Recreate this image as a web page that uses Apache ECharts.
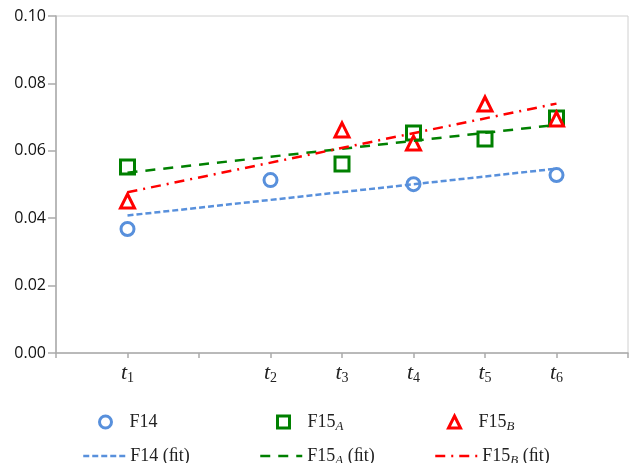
<!DOCTYPE html>
<html>
<head>
<meta charset="utf-8">
<script src="https://cdn.jsdelivr.net/npm/echarts@6/dist/echarts.min.js"></script>
<style>html,body{margin:0;padding:0;background:#fff}#c{width:631px;height:463px}</style>
</head>
<body>
<div id="c"></div>
<script>
// x positions: t1=1, t2=3, t3=4, t4=5, t5=6, t6=7
var xTickLabels = ['', '1', '', '2', '3', '4', '5', '6', ''];
var f14 = [[1, 0.0368], [3, 0.0513], [5, 0.0501], [7, 0.0528]];
var f15A = [[1, 0.0552], [4, 0.0561], [5, 0.0653], [6, 0.0635], [7, 0.0697]];
var f15B = [[1, 0.0451], [4, 0.0662], [5, 0.0623], [6, 0.0739], [7, 0.0694]];
var f14Fit = [[1, 0.0408], [7, 0.0547]];
var f15AFit = [[1, 0.0535], [7, 0.0677]];
var f15BFit = [[1, 0.0477], [7, 0.0740]];

var BLUE = '#5890dc', GREEN = '#008000', RED = '#ff0000';
var serif = 'Liberation Serif';
var legRich = {
  g: {width: 13},
  n: {fontFamily: serif, fontSize: 18, color: '#222'},
  s: {fontFamily: serif, fontSize: 13, fontStyle: 'italic', color: '#222', padding: [9, 0, 0, 0]}
};
var legText = {
  'F14': '{n|F14}',
  'F15A': '{n|F15}{s|A}',
  'F15B': '{n|F15}{s|B}',
  'F14 (fit)': '{n|F14 (ﬁt)}',
  'F15A (fit)': '{n|F15}{s|A}{n| (ﬁt)}',
  'F15B (fit)': '{n|F15}{s|B}{n| (ﬁt)}'
};
function markerLegend(name, icon, color, cx, top) {
  return {
    data: [{name: name, icon: icon}], left: cx - 6, top: top, itemWidth: 12, itemHeight: 12,
    itemGap: 0, padding: 0, selectedMode: false,
    itemStyle: {color: '#fff', borderColor: color, borderWidth: 3},
    formatter: function (n) { return '{g| }' + legText[n]; },
    textStyle: {rich: legRich}
  };
}
function lineLegend(name, left, top) {
  return {
    data: [name], left: left, top: top, itemWidth: 42, itemHeight: 14,
    itemGap: 0, padding: 0, selectedMode: false,
    itemStyle: {opacity: 0},
    lineStyle: {width: 2.5},
    formatter: function (n) { return legText[n]; },
    textStyle: {rich: legRich}
  };
}
var chart = echarts.init(document.getElementById('c'), null, {renderer: 'canvas'});
chart.setOption({
  animation: false,
  backgroundColor: '#fff',
  grid: {left: 56, right: 3, top: 16, bottom: 110, show: true, borderColor: '#d0d0d0', borderWidth: 1},
  legend: [
    markerLegend('F14', 'circle', BLUE, 104, 413),
    markerLegend('F15A', 'rect', GREEN, 282, 413),
    markerLegend('F15B', 'triangle', RED, 453, 413),
    lineLegend('F14 (fit)', 82, 447),
    lineLegend('F15A (fit)', 259, 447),
    lineLegend('F15B (fit)', 434, 447)
  ],
  xAxis: {
    type: 'value', min: 0, max: 8, interval: 1,
    axisLine: {lineStyle: {color: '#aaa', width: 1.5}},
    axisTick: {show: true, length: 5, lineStyle: {color: '#aaa', width: 1.5}},
    splitLine: {show: false},
    axisLabel: {
      margin: 8,
      formatter: function (v) {
        var s = xTickLabels[Math.round(v)];
        return s ? '{t|t}{s|' + s + '}' : '';
      },
      rich: {
        t: {fontFamily: serif, fontSize: 22, fontStyle: 'italic', color: '#222'},
        s: {fontFamily: serif, fontSize: 14, color: '#222', padding: [10, 0, 0, 0]}
      }
    }
  },
  yAxis: {
    type: 'value', min: 0, max: 0.10, interval: 0.02,
    axisLine: {show: true, lineStyle: {color: '#aaa', width: 1.5}},
    axisTick: {show: true, length: 8, lineStyle: {color: '#aaa', width: 1.5}},
    splitLine: {show: false},
    axisLabel: {
      margin: 10, color: '#111', fontFamily: 'Open Sans', fontSize: 16,
      formatter: function (v) { return v.toFixed(2); }
    }
  },
  series: [
    {name: 'F14', type: 'scatter', data: f14, symbol: 'circle', symbolSize: 13,
     itemStyle: {color: '#fff', borderColor: BLUE, borderWidth: 3, opacity: 1}, z: 3},
    {name: 'F15A', type: 'scatter', data: f15A, symbol: 'rect', symbolSize: 14,
     itemStyle: {color: '#fff', borderColor: GREEN, borderWidth: 3, opacity: 1}, z: 3},
    {name: 'F15B', type: 'scatter', data: f15B, symbol: 'triangle', symbolSize: 14,
     itemStyle: {color: '#fff', borderColor: RED, borderWidth: 3, opacity: 1}, z: 3},
    {name: 'F14 (fit)', type: 'line', data: f14Fit, showSymbol: false, symbol: 'none',
     lineStyle: {color: BLUE, width: 2.5, type: [6, 3]}, itemStyle: {color: BLUE}, z: 4},
    {name: 'F15A (fit)', type: 'line', data: f15AFit, showSymbol: false, symbol: 'none',
     lineStyle: {color: GREEN, width: 2.5, type: [10, 8]}, itemStyle: {color: GREEN}, z: 4},
    {name: 'F15B (fit)', type: 'line', data: f15BFit, showSymbol: false, symbol: 'none',
     lineStyle: {color: RED, width: 2.5, type: [10, 6, 2, 6]}, itemStyle: {color: RED}, z: 4}
  ]
});
</script>
</body>
</html>
